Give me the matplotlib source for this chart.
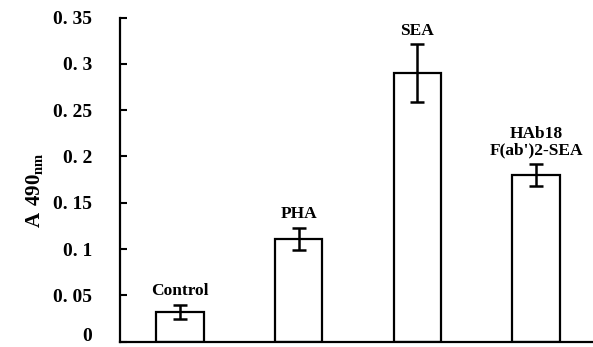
import matplotlib
matplotlib.use("Agg")
import matplotlib.pyplot as plt
from matplotlib.transforms import ScaledTranslation

categories = ["Control", "PHA", "SEA", "HAb18\nF(ab')2-SEA"]
values = [0.032, 0.111, 0.290, 0.180]
errors = [0.008, 0.012, 0.031, 0.012]
yticks = [0, 0.05, 0.1, 0.15, 0.2, 0.25, 0.3, 0.35]
yticklabels = ["0", "0. 05", "0. 1", "0. 15", "0. 2", "0. 25", "0. 3", "0. 35"]
ylabel = r"$\mathbf{A\ 490_{nm}}$"

plt.rcParams['font.family'] = ['Liberation Serif', 'DejaVu Serif']
plt.rcParams['font.weight'] = 'bold'
plt.rcParams['mathtext.fontset'] = 'custom'
plt.rcParams['mathtext.rm'] = 'Liberation Serif:bold'
plt.rcParams['mathtext.bf'] = 'Liberation Serif:bold'

fig = plt.figure(figsize=(5.93, 3.47), dpi=100)
ax = fig.add_axes([120/593, 5.3/347, 1 - 120/593, (341.7 - 17.5)/347])

x = list(range(len(categories)))
ax.bar(x, values, width=0.40, color='white', edgecolor='black', linewidth=1.6, zorder=2)
ax.errorbar(x, values, yerr=errors, fmt='none', ecolor='black', elinewidth=1.8,
            capsize=5, capthick=1.8, zorder=3)

for xi, v, e, lab in zip(x, values, errors, categories):
    ax.annotate(lab, (xi, v + e), xytext=(0, 4), textcoords='offset points',
                ha='center', va='bottom', fontsize=12.5, fontweight='bold',
                linespacing=1.0)

ax.set_xlim(-0.505, 3.48)
ax.set_ylim(0, 0.35)
ax.set_yticks(yticks)
ax.set_yticklabels(yticklabels, fontsize=14, fontweight='bold')
ax.tick_params(axis='y', direction='in', length=5, width=1.5, pad=20)
# lift the bottom "0" label slightly so it stays inside the figure
lbl0 = ax.get_yticklabels()[0]
lbl0.set_transform(lbl0.get_transform() + ScaledTranslation(0, 5/72, fig.dpi_scale_trans))
ax.set_xticks([])
ax.spines['top'].set_visible(False)
ax.spines['right'].set_visible(False)
ax.spines['left'].set_linewidth(1.6)
ax.spines['bottom'].set_linewidth(1.6)
ax.set_ylabel(ylabel, fontsize=15)
ax.yaxis.set_label_coords(-0.158, 0.468)

fig.savefig("out.png", dpi=100)
